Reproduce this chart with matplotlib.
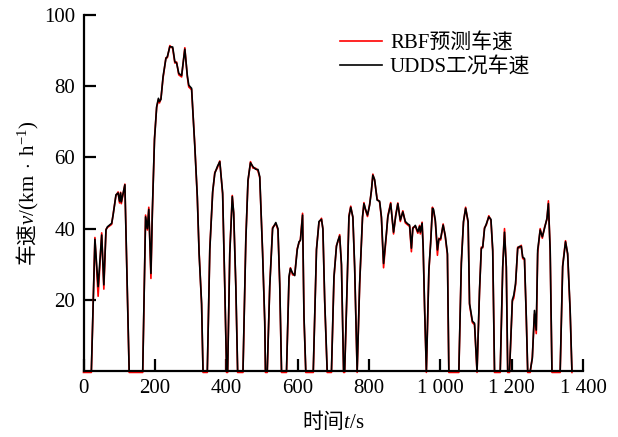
import matplotlib
matplotlib.use('Agg')
import matplotlib.pyplot as plt


# UDDS cycle speed (km/h) against time (s), and the RBF prediction
time = [0, 22, 32, 41, 51, 57, 63, 67, 79, 83, 91, 97, 101, 104, 106, 116, 128,
        166, 174, 179, 183, 189, 193, 199, 205, 210, 213, 217, 223, 231, 235, 242,
        250, 256, 261, 267, 275, 284, 291, 295, 303, 312, 319, 324, 331, 335,
        347, 354, 362, 368, 375, 382, 390, 396, 401, 404, 410, 417, 421, 427, 432,
        447, 455, 461, 468, 475, 482, 489, 494, 502, 508, 510,
        515, 522, 530, 539, 545, 550, 555,
        569, 576, 580, 586, 592, 599, 604, 608, 614, 618, 623,
        644, 653, 660, 667, 671, 676, 683,
        695, 702, 709, 713, 718, 723, 729, 732, 739, 744, 749, 755, 760, 767,
        774, 782, 786, 790, 796, 802, 807, 811, 816, 823, 830, 835, 841, 849, 853,
        861, 869, 875, 881, 888, 895, 902, 909, 914, 919, 923, 930, 937, 942, 944,
        949, 952, 956, 961, 968, 973, 978, 981, 986, 992, 996, 1001, 1008, 1014,
        1020, 1024, 1052, 1059, 1065, 1071, 1078, 1082, 1090, 1096, 1103,
        1110, 1115, 1119, 1124, 1129, 1136, 1142, 1147, 1152,
        1168, 1175, 1180, 1185, 1189, 1194, 1202, 1206, 1211, 1217, 1222, 1227,
        1231, 1236, 1241, 1245, 1252, 1258, 1264, 1269, 1273, 1280, 1286, 1292,
        1299, 1303, 1308, 1313, 1336, 1343, 1351, 1357, 1364, 1369]

udds_speed = [0, 0, 37, 23.7, 38.2, 24.2, 39.6, 40.5, 41.5, 43.8, 49.5, 50, 47.7, 50, 47.5, 52.3, 0,
              0, 43.3, 40, 45.4, 27.4, 45, 65, 74.2, 76.6, 75.7, 76.3, 82.7, 87.8, 88.3, 91.1,
              91, 86.9, 86.5, 83.6, 83, 90.4, 83, 80.3, 79.4, 63, 49, 33, 19, 0,
              0, 34, 50.4, 55.5, 57.4, 58.8, 50, 23.7, 0, 0, 33, 49, 44.4, 23.7, 0,
              0, 36.8, 53.6, 58.5, 57.4, 56.7, 56.6, 54.6, 33, 14, 0,
              0, 23.7, 40, 41.7, 40, 24.6, 0,
              0, 26.5, 28.8, 27.5, 26.8, 34, 36.3, 36.7, 43.8, 15.3, 0,
              0, 34, 42, 42.6, 40, 20, 0,
              0, 26.5, 35, 36.6, 37.9, 30, 0, 0, 24.6, 43.3, 46, 43.3, 29.3, 0,
              24.6, 43.3, 47, 45.6, 43.8, 46.6, 50.8, 55, 53.8, 48, 47.7, 43.3, 30.2, 38.7, 43.3,
              47, 39, 43.5, 47, 42.4, 44.7, 42, 41.3, 41, 34.5, 40, 40.9, 39.1, 40.6, 39,
              41.5, 35, 18, 0, 28.4, 35.9, 45.7, 45.4, 42.4, 34, 37, 37.2, 41, 38,
              33, 0, 0, 30.2, 42, 45.7, 42, 19, 14, 13.4, 0,
              22.8, 34.4, 34.9, 40, 41.3, 43.3, 42.6, 34, 0,
              0, 29.3, 39, 29.3, 0, 0, 20, 21.3, 24.6, 34.5, 35, 35,
              32, 31.6, 15.3, 0, 0, 3.6, 17, 11.5, 34, 39.6, 37.7, 40,
              42.9, 47, 34, 0, 0, 29.3, 36.3, 33, 17, 0]

rbf_speed = [-0.4, -0.4, 37.5, 21, 38.8, 23, 39.8, 40.3, 41.2, 44, 49.3, 50.3, 47.2, 50.2, 47, 52.5, -0.4,
             -0.4, 43.8, 39.6, 46, 26, 44.5, 65.4, 74, 76.2, 75.3, 76.5, 82.3, 88, 88, 91.4,
             90.6, 86.5, 86.8, 83.2, 82.6, 90.8, 82.6, 79.8, 79, 63.4, 48.6, 33.4, 18.6, -0.4,
             -0.4, 34.4, 50, 55.8, 57, 59, 49.6, 23.3, -0.4, -0.4, 33.4, 49.3, 44, 23.3, -0.4,
             -0.4, 37.2, 53.2, 58.8, 57, 57, 56.2, 54.3, 33.4, 13.6, -0.4,
             -0.4, 24, 40.3, 41.4, 39.6, 24.2, -0.4,
             -0.4, 26, 29, 27, 27, 34.4, 36, 37, 44.3, 15, -0.4,
             -0.4, 34.3, 41.7, 42.9, 39.7, 19.6, -0.4,
             -0.4, 26, 35.3, 36.3, 38.3, 29.6, -0.4, -0.4, 24.2, 43.6, 46.3, 43, 29, -0.4,
             24.2, 43, 47.3, 45.3, 43.4, 46.9, 50.5, 55.3, 53.4, 48.3, 47.4, 43, 29, 38.4, 43.6,
             47.3, 38.5, 43.8, 47.2, 42, 45, 41.6, 41, 40.6, 33.5, 40.3, 40.6, 38.7, 40.9, 38.5,
             41.8, 34.6, 17.6, -0.4, 28, 36.2, 46, 45, 42, 32.5, 37.3, 36.8, 41.3, 37.6,
             32.6, -0.4, -0.4, 30.6, 41.7, 46, 41.6, 18.6, 13.6, 13, -0.4,
             22.4, 34.8, 34.6, 40.3, 41, 43.6, 42.3, 33.6, -0.4,
             -0.4, 29, 40, 29, -0.4, -0.4, 19.6, 20.5, 24.2, 34.8, 34.6, 35.3,
             31.6, 31.3, 15, -0.4, -0.4, 4, 16, 10.5, 33, 40, 37.3, 40.3,
             42.6, 47.8, 33.6, -0.4, -0.4, 29.6, 36.6, 32.6, 16.6, -0.4]

x_ticks = [0, 200, 400, 600, 800, 1000, 1200, 1400]
x_tick_labels = ['0', '200', '400', '600', '800', '1 000', '1 200', '1 400']
y_ticks = [20, 40, 60, 80, 100]

labels = ['RBF预测车速', 'UDDS工况车速']


plt.rcParams['font.family'] = ['Liberation Serif', 'Noto Sans CJK SC']
plt.rcParams['mathtext.fontset'] = 'custom'
plt.rcParams['mathtext.rm'] = 'Liberation Serif'
plt.rcParams['mathtext.it'] = 'Liberation Serif:italic'
plt.rcParams['font.size'] = 15

fig = plt.figure(figsize=(6.18, 4.37), dpi=100)

ax = fig.add_axes([83.5/618, 66/437, 499.5/618, 356/437])

ax.plot(time, rbf_speed, color='#ff0000', linewidth=1.2, label=labels[0], clip_on=False)

ax.plot(time, udds_speed, color='black', linewidth=1.2, label=labels[1])

ax.set_xlim(0, 1400)
ax.set_ylim(0, 100)

ax.set_xticks(x_ticks)
ax.set_xticklabels(x_tick_labels)
ax.set_yticks(y_ticks)

ax.tick_params(direction='in', length=8.5, width=1.6, pad=6, labelsize=15)

[ ax.spines[s].set_visible(False) for s in ('top', 'right') ]
[ ax.spines[s].set_linewidth(1.6) for s in ('left', 'bottom') ]

# Chinese text stays outside the math parts, so it is drawn with the CJK font;
# the latin symbols go through mathtext in Liberation Serif
ax.set_xlabel(r'时间$t\mathrm{/s}$', family='Noto Sans CJK SC', fontsize=15, labelpad=8)
ax.set_ylabel(r'车速$v\mathrm{/(km}\;\cdot\;\mathrm{h}^{-1}\mathrm{)}$',
              family='Noto Sans CJK SC', fontsize=15, labelpad=2)

ax.legend(loc='upper left',
          bbox_to_anchor=(340/618, 1 - 33/437),
          bbox_transform=fig.transFigure,
          frameon=False,
          fontsize=15,
          handlelength=2.0,
          handletextpad=0.4,
          labelspacing=0.2,
          borderpad=0,
          borderaxespad=0)

fig.savefig('out.png', dpi=100)
